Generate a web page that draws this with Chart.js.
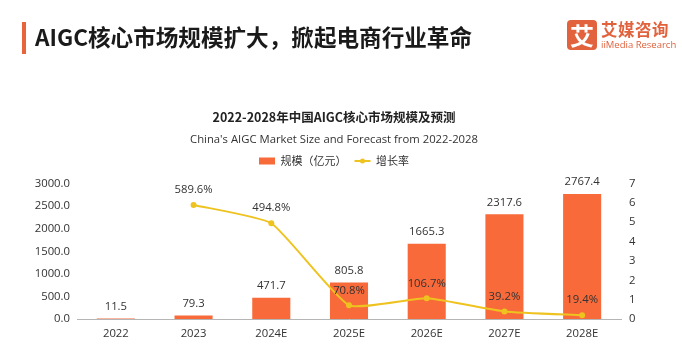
<!DOCTYPE html>
<html>
<head>
<meta charset="utf-8">
<script src="https://cdn.jsdelivr.net/npm/chart.js@4"></script>
<style>
  body { margin: 0; background: #fff; font-family: "Noto Sans CJK SC", sans-serif; }
  #wrap { position: relative; width: 682px; height: 350px; overflow: hidden; }
  #chart { position: absolute; left: 0; top: 0; }
  .bar { position: absolute; left: 22px; top: 22px; width: 4px; height: 32px; background: #e8643c; }
  .head { position: absolute; left: 35px; top: 20px; font-size: 22.6px; font-weight: 700; color: #1a1a1a; line-height: 34px; }
  .logo { position: absolute; left: 567px; top: 20px; width: 30px; height: 30px; border-radius: 4px; background: #e1623d;
          color: #fff; font-size: 24px; font-weight: 700; line-height: 30px; text-align: center; }
  .logo-cn { position: absolute; left: 601px; top: 17px; font-size: 16.5px; font-weight: 700; color: #e1623d; line-height: 24px; letter-spacing: 0.5px; }
  .logo-en { position: absolute; left: 601px; top: 39px; font-size: 9.5px; color: #e1623d; line-height: 12px; font-family: "Open Sans", sans-serif; }
</style>
</head>
<body>
<div id="wrap">
  <canvas id="chart" width="682" height="350"></canvas>
  <div class="bar"></div>
  <div class="head">AIGC核心市场规模扩大，掀起电商行业革命</div>
  <div class="logo">艾</div>
  <div class="logo-cn">艾媒咨询</div>
  <div class="logo-en">iiMedia Research</div>
</div>
<script>
// data
const years = ["2022", "2023", "2024E", "2025E", "2026E", "2027E", "2028E"];
const marketSize = [11.5, 79.3, 471.7, 805.8, 1665.3, 2317.6, 2767.4]; // 亿元
const growthRate = [null, 589.6, 494.8, 70.8, 106.7, 39.2, 19.4]; // %

const barColor = "#f86a3a";
const lineColor = "#efc31f";
const numFont = '"Open Sans", "Noto Sans CJK SC", sans-serif';
const cjkFont = '"Noto Sans CJK SC", sans-serif';

// value labels above bars and points, dot on the legend line, extra gap under legend
const labelPlugin = {
  id: "labels",
  beforeInit(chart) {
    const legend = chart.legend;
    if (!legend) return;
    const fit = legend.fit;
    legend.fit = function () {
      fit.call(this);
      this.height += 7;
    };
  },
  afterDatasetsDraw(chart) {
    const ctx = chart.ctx;
    ctx.save();
    ctx.font = "11.3px " + numFont;
    ctx.fillStyle = "#333";
    ctx.textAlign = "center";
    ctx.textBaseline = "middle";
    chart.getDatasetMeta(0).data.forEach(function (bar, i) {
      ctx.fillText(marketSize[i].toFixed(1), bar.x, bar.y - 12);
    });
    chart.getDatasetMeta(1).data.forEach(function (pt, i) {
      if (growthRate[i] == null) return;
      ctx.fillText(growthRate[i].toFixed(1) + "%", pt.x, pt.y - 15);
    });
    ctx.restore();
  },
  afterDraw(chart) {
    const box = chart.legend.legendHitBoxes[1];
    if (!box) return;
    const ctx = chart.ctx;
    ctx.save();
    ctx.fillStyle = lineColor;
    ctx.beginPath();
    ctx.arc(box.left + 8, box.top + box.height / 2, 2.5, 0, Math.PI * 2);
    ctx.fill();
    ctx.restore();
  }
};

new Chart(document.getElementById("chart"), {
  type: "bar",
  data: {
    labels: years,
    datasets: [
      {
        label: "规模（亿元）",
        data: marketSize,
        backgroundColor: barColor,
        categoryPercentage: 1,
        barPercentage: 0.49,
        yAxisID: "y",
        order: 2,
      },
      {
        type: "line",
        label: "增长率",
        data: growthRate,
        borderColor: lineColor,
        backgroundColor: lineColor,
        borderWidth: 2,
        pointRadius: 3,
        pointBackgroundColor: lineColor,
        pointBorderWidth: 0,
        tension: 0.15,
        yAxisID: "y1",
        order: 1,
      },
    ],
  },
  options: {
    responsive: false,
    animation: false,
    layout: { padding: { top: 110, left: 0, right: 14, bottom: 0 } },
    plugins: {
      title: {
        display: true,
        text: "2022-2028年中国AIGC核心市场规模及预测",
        color: "#222",
        font: { size: 12.5, weight: "bold", family: cjkFont },
        padding: { top: 0, bottom: 8 },
      },
      subtitle: {
        display: true,
        text: "China's AIGC Market Size and Forecast from 2022-2028",
        color: "#333",
        font: { size: 11.3, family: numFont },
        padding: { top: 0, bottom: 1 },
      },
      legend: {
        labels: {
          usePointStyle: true,
          pointStyleWidth: 16,
          boxHeight: 7,
          padding: 8,
          color: "#333",
          font: { size: 11, family: cjkFont },
          sort: function (a, b) { return a.datasetIndex - b.datasetIndex; },
          generateLabels: function (chart) {
            const items = Chart.defaults.plugins.legend.labels.generateLabels(chart);
            items.forEach(function (item) {
              if (item.datasetIndex === 0) {
                item.pointStyle = "rect";
                item.lineWidth = 0;
              } else {
                item.pointStyle = "line";
                item.lineWidth = 2;
                item.strokeStyle = lineColor;
              }
            });
            return items;
          },
        },
      },
      tooltip: { enabled: false },
    },
    scales: {
      x: {
        grid: { display: false, drawTicks: false },
        border: { color: "#b5b5b5" },
        ticks: { color: "#333", font: { size: 11.3, family: numFont }, padding: 8 },
        afterFit(scale) { scale.height = 31; },
      },
      y: {
        position: "left",
        min: 0,
        max: 3000,
        grid: { display: false, drawTicks: false },
        border: { display: false },
        ticks: {
          stepSize: 500,
          padding: 7,
          color: "#333",
          font: { size: 11.3, family: numFont },
          callback: function (v) { return v.toFixed(1); },
        },
        afterFit(scale) { scale.width = 77; },
      },
      y1: {
        position: "right",
        min: 0,
        max: 700,
        grid: { display: false, drawTicks: false },
        border: { display: false },
        ticks: {
          stepSize: 100,
          padding: 8,
          color: "#333",
          font: { size: 11.3, family: numFont },
          callback: function (v) { return v / 100; },
        },
        afterFit(scale) { scale.width = 47; },
      },
    },
  },
  plugins: [labelPlugin],
});
</script>
</body>
</html>
